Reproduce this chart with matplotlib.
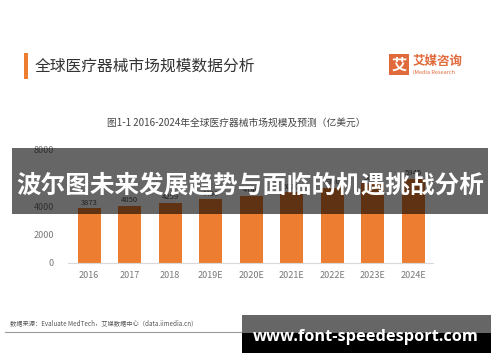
#!/usr/bin/env python3
"""Global medical device market size bar chart, with the overlay banners of the screenshot."""

import matplotlib

matplotlib.use("Agg")
import matplotlib.pyplot as plt
from matplotlib.patches import Rectangle

plt.rcParams["font.family"] = ["Noto Sans CJK SC", "DejaVu Sans"]

years = ["2016", "2017", "2018", "2019E", "2020E", "2021E", "2022E", "2023E", "2024E"]
market_size = [3873, 4050, 4259, 4496, 4746, 5010, 5300, 5630, 5945]
y_ticks = [0, 2000, 4000, 6000, 8000]

header = "全球医疗器械市场规模数据分析"
chart_title = "图1-1 2016-2024年全球医疗器械市场规模及预测（亿美元）"
source_note = "数据来源：Evaluate MedTech，艾媒数据中心（data.iimedia.cn）"
banner = "波尔图未来发展趋势与面临的机遇挑战分析"
watermark = "www.font-speedesport.com"

ORANGE = "#ED7D31"
W, H = 500, 362


def px(x, y):
    # pixel coords (top-left origin) -> figure fraction
    return x / W, 1 - y / H


fig = plt.figure(figsize=(W / 100, H / 100), dpi=100)
fig.patch.set_facecolor("white")

# bar chart
left, bottom = px(68, 263)
right, top = px(433, 150)
ax = fig.add_axes([left, bottom, right - left, top - bottom])
x = range(len(years))
ax.bar(x, market_size, width=0.57, color=ORANGE, zorder=2)
for xi, v in zip(x, market_size):
    ax.text(xi, v + 120, str(v), ha="center", va="bottom", fontsize=5.5, color="#555555")
ax.set_xlim(-0.52, 8.49)
ax.set_ylim(0, 8000)
ax.set_yticks(y_ticks)
ax.set_yticklabels([str(t) if t != 6000 else "" for t in y_ticks])
ax.set_xticks(list(x))
ax.set_xticklabels(years)
ax.tick_params(axis="both", length=0, labelsize=6.5, colors="#777777")
ax.tick_params(axis="y", pad=10)
ax.tick_params(axis="x", pad=6)
for side in ["top", "right", "left"]:
    ax.spines[side].set_visible(False)
ax.spines["bottom"].set_color("#d9d9d9")
ax.spines["bottom"].set_linewidth(0.8)

# page header
fig.add_artist(Rectangle(px(24, 79), 3.5 / W, 26 / H, transform=fig.transFigure,
                         color=ORANGE, lw=0))
fig.text(*px(35, 66), header, fontsize=11.3, color="#333333", fontweight="medium",
         va="center", ha="left")

# logo
fig.add_artist(Rectangle(px(389, 75), 20 / W, 21 / H, transform=fig.transFigure,
                         color="#E06A3B", lw=0))
fig.text(*px(399, 64.5), "艾", fontsize=11, color="white", fontweight="bold",
         ha="center", va="center")
fig.text(*px(413, 61), "艾媒咨询", fontsize=9, color="#E06A3B", fontweight="bold",
         ha="left", va="center")
fig.text(*px(413, 72.5), "iMedia Research", fontsize=4, color="#E06A3B",
         ha="left", va="center")

fig.text(*px(236, 123), chart_title, fontsize=7, color="#444444", ha="center", va="center")

# footer
fig.text(*px(10, 323), source_note, fontsize=4.5, color="#555555", ha="left", va="center")
fig.add_artist(plt.Line2D([5 / W, 490 / W], [1 - 332 / H] * 2, transform=fig.transFigure,
                          color="#999999", lw=0.8))

# overlay banner across the chart
fig.add_artist(Rectangle(px(12, 214), 476 / W, 66 / H, transform=fig.transFigure,
                         color="black", alpha=0.6, lw=0, zorder=5))
fig.text(*px(250, 185), banner, fontsize=17.7, color="white", fontweight="bold",
         ha="center", va="center", zorder=6)

# watermark box
fig.add_artist(Rectangle(px(242, 333), 249 / W, 18 / H, transform=fig.transFigure,
                         color="#666666", lw=0, zorder=5))
fig.add_artist(Rectangle(px(242, 353), 249 / W, 20 / H, transform=fig.transFigure,
                         color="black", lw=0, zorder=5))
fig.text(*px(366, 337), watermark, fontsize=11.8, color="white", fontweight="bold",
         family=["Open Sans", "DejaVu Sans"], ha="center", va="center", zorder=6)

fig.savefig("out.png", dpi=100)
